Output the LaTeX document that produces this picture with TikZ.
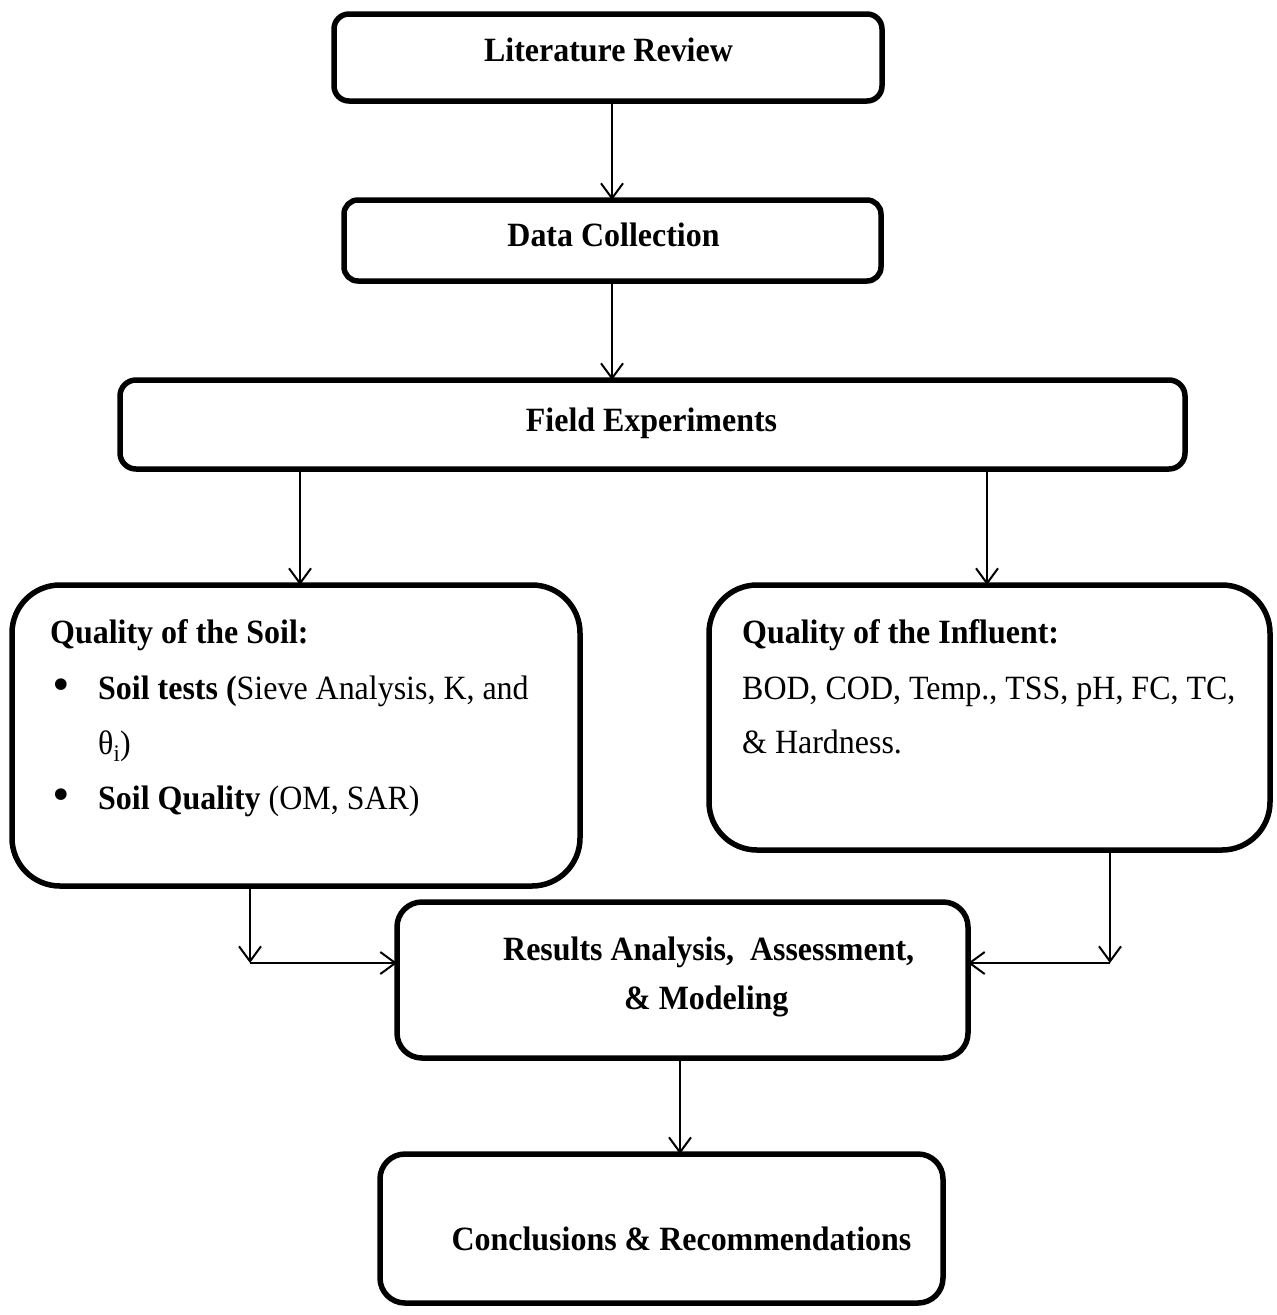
\documentclass[tikz,border=0pt]{standalone}
\usepackage{fontspec}
\setmainfont[FakeStretch=0.94]{Liberation Serif}
\newfontfamily\bulletfont{DejaVu Sans}
\usetikzlibrary{arrows.meta}
\tikzset{
  box/.style={draw=black, line width=5.5pt, fill=white, inner sep=0pt, outer sep=0pt},
  arr/.style={line width=2pt, -{Straight Barb[length=15pt,width=22pt,line width=2pt]}},
  ttl/.style={font=\fontsize{34}{40}\selectfont\bfseries, inner sep=0pt, anchor=base},
  txt/.style={font=\fontsize{34}{40}\selectfont, inner sep=0pt, anchor=base west},
  bul/.style={font=\fontsize{40}{40}\selectfont\bulletfont, inner sep=0pt, anchor=base west},
}
\begin{document}
\begin{tikzpicture}[x=1pt,y=-1pt]
\useasboundingbox (0,0) rectangle (1277,1315);
% boxes
\node[box, rounded corners=15pt, minimum width=548pt, minimum height=87pt] (lit) at (608,57.5) {};
\node[box, rounded corners=14pt, minimum width=537pt, minimum height=81pt] (data) at (612.5,240.5) {};
\node[box, rounded corners=16pt, minimum width=1065pt, minimum height=89pt] (field) at (652.5,424.5) {};
\node[box, rounded corners=48pt, minimum width=568pt, minimum height=301pt] (soil) at (296,735.5) {};
\node[box, rounded corners=48pt, minimum width=561pt, minimum height=265pt] (infl) at (989.5,717.5) {};
\node[box, rounded corners=25pt, minimum width=571pt, minimum height=156pt] (res) at (682.5,980) {};
\node[box, rounded corners=25pt, minimum width=563pt, minimum height=149pt] (conc) at (661.5,1228.5) {};
% texts
\node[ttl] (tlit) at (608.5,61) {Literature Review};
\node[ttl] (tdata) at (613.5,246) {Data Collection};
\node[ttl] (tfield) at (651.5,431) {Field Experiments};
\node[ttl, anchor=base west] (tsoil) at (50,643) {Quality of the Soil:};
\node[bul] (b1) at (49,699) {•};
\node[txt] (s1) at (98,699) {\textbf{Soil tests (}Sieve Analysis, K, and};
\node[txt] (s2) at (98,754) {θ\textsubscript{i})};
\node[bul] (b2) at (49,809) {•};
\node[txt] (s3) at (98,809) {\textbf{Soil Quality} (OM, SAR)};
\node[ttl, anchor=base west] (tinfl) at (742,643) {Quality of the Influent:};
\node[txt] (i1) at (742,699) {BOD, COD, Temp., TSS, pH, FC, TC,};
\node[txt] (i2) at (742,753) {\& Hardness.};
\node[ttl, anchor=base west] (r1) at (503,960) {Results Analysis,\ \ Assessment,};
\node[ttl, anchor=base west] (r2) at (624,1009) {\& Modeling};
\node[ttl] (tconc) at (681.5,1250) {Conclusions \& Recommendations};
% connector coordinates
\coordinate (x1) at (612,0);
\coordinate (xl) at (300,0);
\coordinate (xr) at (987,0);
\coordinate (xs) at (250,0);
\coordinate (xi) at (1110,0);
\coordinate (xc) at (680,0);
\coordinate (jl) at (250,963);
\coordinate (jr) at (1110,963);
% connectors
\draw[arr] (lit.south -| x1) -- (data.north -| x1);
\draw[arr] (data.south -| x1) -- (field.north -| x1);
\draw[arr] (field.south -| xl) -- (soil.north -| xl);
\draw[arr] (field.south -| xr) -- (infl.north -| xr);
\draw[arr] (soil.south -| xs) -- (jl);
\draw[arr] (jl) -- (res.west |- jl);
\draw[arr] (infl.south -| xi) -- (jr);
\draw[arr] (jr) -- (res.east |- jr);
\draw[arr] (res.south -| xc) -- (conc.north -| xc);
\end{tikzpicture}
\end{document}
